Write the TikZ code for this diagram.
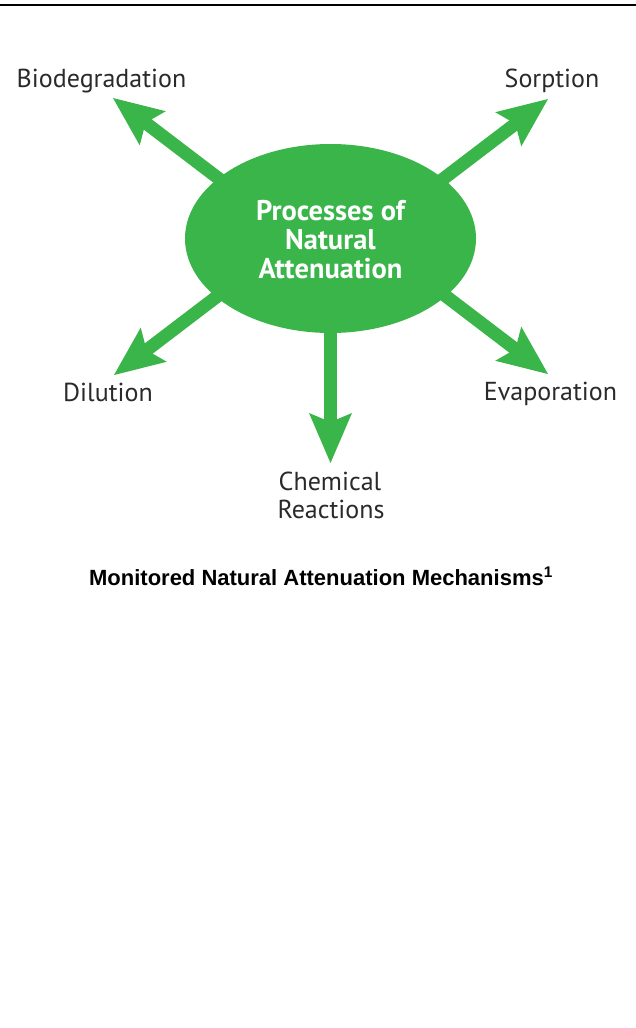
\documentclass[tikz,border=0pt]{standalone}
\usepackage{fontspec}
\setmainfont{Liberation Sans}
\newfontfamily\labfont{PT Sans}
\usetikzlibrary{arrows.meta,shapes.geometric}
\definecolor{mnagreen}{HTML}{3AB54A}
\definecolor{labgray}{HTML}{2A2A2A}
\tikzset{
  lbl/.style={anchor=base, text=labgray, font=\labfont\fontsize{26}{28}\selectfont, inner sep=0pt, align=center},
  bigarrow/.style={draw=mnagreen, line width=13pt,
    -{Stealth[length=50pt,width=43pt,inset=9pt,line width=0pt]}},
  bubble/.style={ellipse, fill=mnagreen, minimum width=291pt, minimum height=189pt, inner sep=0pt,
    text=white, align=center, font=\labfont\bfseries\fontsize{28.5}{29}\selectfont},
  toprule/.style={line width=2.5pt, draw=black}
}
\begin{document}
\begin{tikzpicture}[x=1pt,y=-1pt]
\useasboundingbox (0,0) rectangle (636,1028);
% top rule
\coordinate (rl) at (0,5);
\coordinate (rr) at (636,5);
\draw[toprule] (rl) -- (rr);
% arrow tips
\coordinate (tB) at (113,98);
\coordinate (tS) at (548,99);
\coordinate (tD) at (114,375);
\coordinate (tE) at (548,374);
\coordinate (tC) at (330.5,463);
% central bubble
\node[bubble] (ell) at (330.5,238.5) {};
\draw[bigarrow] ([shift={(-74.5,-31.5)}]ell.center) -- (tB);
\draw[bigarrow] ([shift={(74.5,-30.5)}]ell.center) -- (tS);
\draw[bigarrow] ([shift={(-73.5,27.5)}]ell.center) -- (tD);
\draw[bigarrow] ([shift={(74.5,26.5)}]ell.center) -- (tE);
\draw[bigarrow] (ell.center) -- (tC);
\node[bubble, fill=none, minimum width=0pt, minimum height=0pt] (ellt) at (330.5,240) {Processes of\\Natural\\Attenuation};
% labels
\node[lbl] (bio) at (101.5,87) {Biodegradation};
\node[lbl] (sorp) at (552,87) {Sorption};
\node[lbl] (dil) at (108,401) {Dilution};
\node[lbl] (evap) at (550.5,400) {Evaporation};
\node[lbl] (chem) at (330,490) {Chemical};
\node[lbl] (react) at (331,518) {Reactions};
% caption
\node[anchor=base, inner sep=0pt, font=\bfseries\fontsize{22}{26}\selectfont] (title) at (321,585) {Monitored Natural Attenuation Mechanisms\textsuperscript{1}};
\end{tikzpicture}
\end{document}
